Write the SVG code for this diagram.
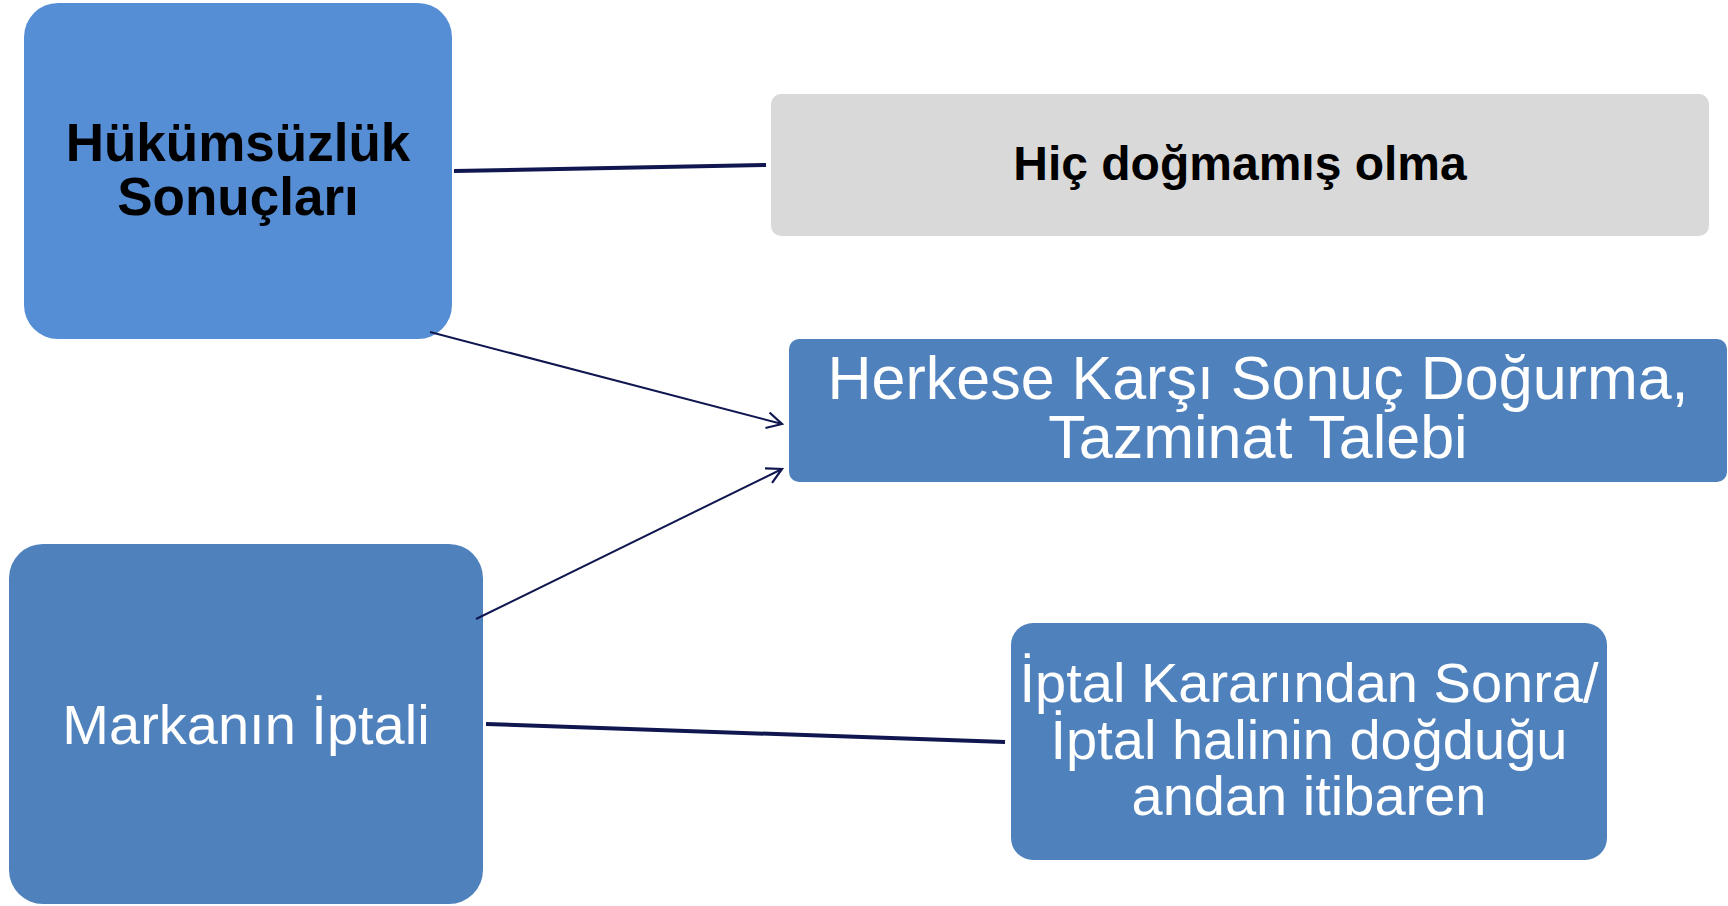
<svg xmlns="http://www.w3.org/2000/svg" width="1728" height="906" viewBox="0 0 1728 906">
<style>
.t{font-family:"Liberation Sans",Arial,sans-serif;text-anchor:middle}
.w{fill:#FFFFFF}
.b{fill:#000000;font-weight:bold}
.conn{stroke:#10164F;fill:none;stroke-linecap:butt}
</style>
<defs>
<marker id="arr" markerWidth="20" markerHeight="20" refX="17" refY="10" orient="auto" markerUnits="userSpaceOnUse">
<path d="M2,2 L17,10 L2,18" fill="none" stroke="#10164F" stroke-width="2.2"/>
</marker>
</defs>
<rect width="1728" height="906" fill="#FFFFFF"/>
<g id="node-hukumsuzluk">
<rect x="24" y="3" width="428" height="336" rx="34" fill="#558ED5"/>
<text class="t b" x="238" y="161" font-size="53">Hükümsüzlük</text>
<text class="t b" x="238" y="215" font-size="53">Sonuçları</text>
</g>
<g id="node-hic">
<rect x="771" y="94" width="938" height="142" rx="10" fill="#D9D9D9"/>
<text class="t b" x="1240" y="180" font-size="48">Hiç doğmamış olma</text>
</g>
<g id="node-herkese">
<rect x="789" y="339" width="938" height="143" rx="10" fill="#4F81BD"/>
<text class="t w" x="1258" y="399" font-size="61">Herkese Karşı Sonuç Doğurma,</text>
<text class="t w" x="1258" y="458" font-size="61">Tazminat Talebi</text>
</g>
<g id="node-markanin">
<rect x="9" y="544" width="474" height="360" rx="34" fill="#4F81BD"/>
<text class="t w" x="246" y="744" font-size="56">Markanın İptali</text>
</g>
<g id="node-iptal">
<rect x="1011" y="623" width="596" height="237" rx="22" fill="#4F81BD"/>
<text class="t w" x="1309" y="702" font-size="56">İptal Kararından Sonra/</text>
<text class="t w" x="1309" y="759" font-size="56">İptal halinin doğduğu</text>
<text class="t w" x="1309" y="815" font-size="56">andan itibaren</text>
</g>
<g id="connectors">
<line class="conn" x1="454" y1="171" x2="766" y2="165" stroke-width="4"/>
<line class="conn" x1="430" y1="332" x2="782" y2="424" stroke-width="2" marker-end="url(#arr)"/>
<line class="conn" x1="476" y1="619" x2="782" y2="469" stroke-width="2" marker-end="url(#arr)"/>
<line class="conn" x1="486" y1="724" x2="1005" y2="742" stroke-width="4"/>
</g>
</svg>
